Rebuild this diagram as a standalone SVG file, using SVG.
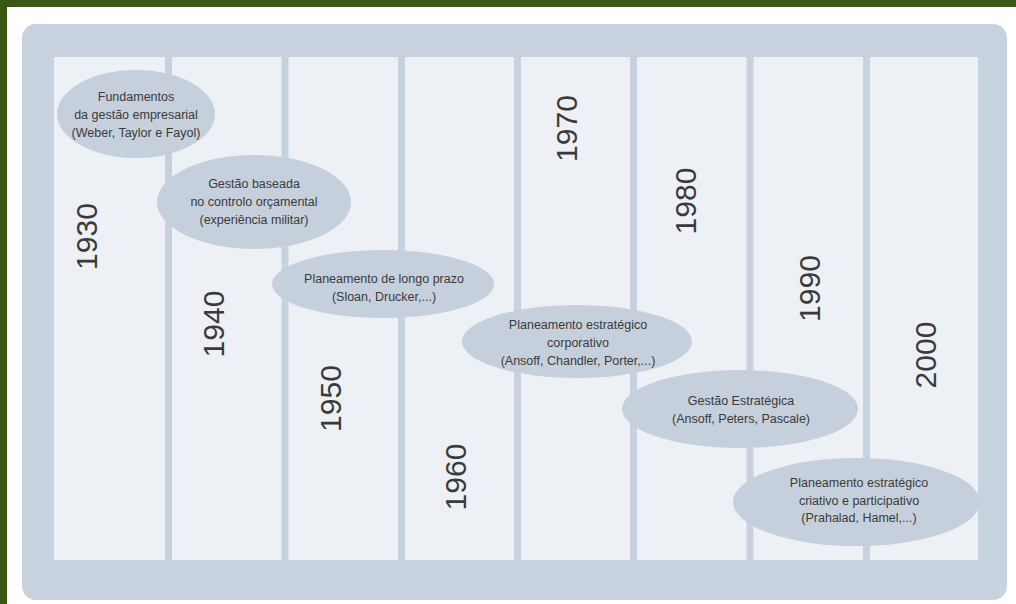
<svg xmlns="http://www.w3.org/2000/svg" width="1016" height="604" viewBox="0 0 1016 604">
<style>
.sep{fill:#c8d2de}
.ell{fill:#c6d0dc}
.lbl{font-family:"Liberation Sans",Arial,sans-serif;font-size:12.5px;fill:#3a3a3a;text-anchor:middle}
.yr{font-family:"Liberation Sans",Arial,sans-serif;font-size:30px;fill:#3a3a3a;text-anchor:middle}
</style>
<rect x="0" y="0" width="1016" height="604" fill="#ffffff"/>
<rect x="0" y="0" width="1016" height="7" fill="#3b5716"/>
<rect x="0" y="0" width="7" height="604" fill="#3b5716"/>
<g id="panel">
<rect x="22" y="24" width="985" height="576" rx="14" fill="#c8d2de"/>
<rect x="54" y="57" width="924" height="503" fill="#edf0f5"/>
<rect class="sep" x="165" y="57" width="7" height="503"/>
<rect class="sep" x="281.5" y="57" width="7" height="503"/>
<rect class="sep" x="398" y="57" width="7" height="503"/>
<rect class="sep" x="514" y="57" width="7" height="503"/>
<rect class="sep" x="630" y="57" width="7" height="503"/>
<rect class="sep" x="746.5" y="57" width="7" height="503"/>
<rect class="sep" x="863" y="57" width="7" height="503"/>
</g>
<g id="years">
<text class="yr" transform="translate(97,236.5) rotate(-90)">1930</text>
<text class="yr" transform="translate(224,324) rotate(-90)">1940</text>
<text class="yr" transform="translate(341,398.5) rotate(-90)">1950</text>
<text class="yr" transform="translate(466,477) rotate(-90)">1960</text>
<text class="yr" transform="translate(577,128.5) rotate(-90)">1970</text>
<text class="yr" transform="translate(696,201) rotate(-90)">1980</text>
<text class="yr" transform="translate(820,288.5) rotate(-90)">1990</text>
<text class="yr" transform="translate(936,355) rotate(-90)">2000</text>
</g>
<g id="connectors"></g>
<g id="n1">
<ellipse class="ell" cx="136" cy="114" rx="79" ry="44"/>
<text class="lbl" x="136" y="101">Fundamentos</text>
<text class="lbl" x="136" y="119">da gestão empresarial</text>
<text class="lbl" x="136" y="137">(Weber, Taylor e Fayol)</text>
</g>
<g id="n2">
<ellipse class="ell" cx="254" cy="202" rx="97" ry="47"/>
<text class="lbl" x="254" y="188">Gestão baseada</text>
<text class="lbl" x="254" y="206">no controlo orçamental</text>
<text class="lbl" x="254" y="224">(experiência militar)</text>
</g>
<g id="n3">
<ellipse class="ell" cx="383" cy="284" rx="111" ry="34"/>
<text class="lbl" x="384" y="283">Planeamento de longo prazo</text>
<text class="lbl" x="384" y="301">(Sloan, Drucker,...)</text>
</g>
<g id="n4">
<ellipse class="ell" cx="577" cy="341.5" rx="115" ry="36.5"/>
<text class="lbl" x="578" y="329">Planeamento estratégico</text>
<text class="lbl" x="578" y="347">corporativo</text>
<text class="lbl" x="578" y="365">(Ansoff, Chandler, Porter,...)</text>
</g>
<g id="n5">
<ellipse class="ell" cx="740" cy="409" rx="118" ry="39"/>
<text class="lbl" x="741" y="405">Gestão Estratégica</text>
<text class="lbl" x="741" y="423">(Ansoff, Peters, Pascale)</text>
</g>
<g id="n6">
<ellipse class="ell" cx="856.5" cy="502" rx="123.5" ry="44"/>
<text class="lbl" x="859" y="487">Planeamento estratégico</text>
<text class="lbl" x="859" y="505">criativo e participativo</text>
<text class="lbl" x="859" y="522">(Prahalad, Hamel,...)</text>
</g>
</svg>
